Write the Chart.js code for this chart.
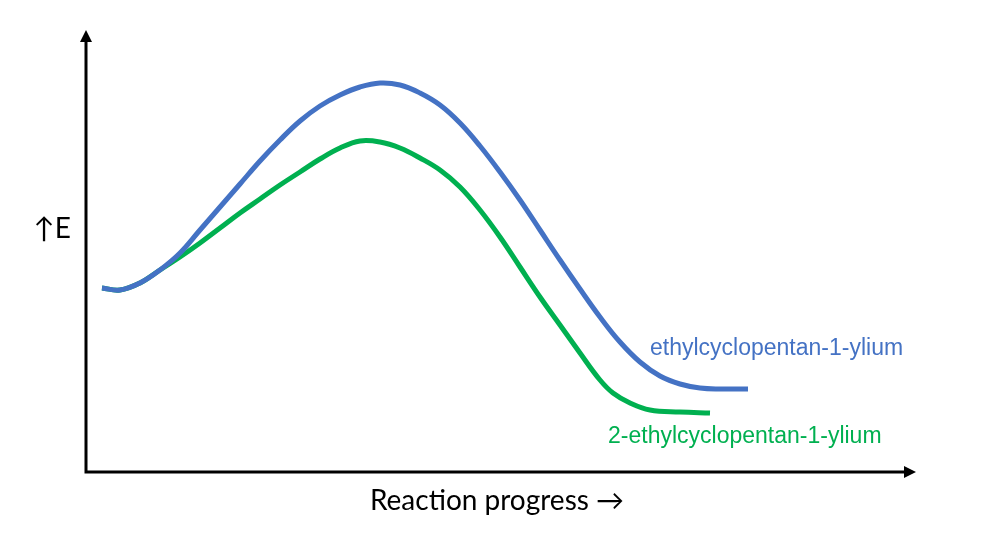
<!DOCTYPE html>
<html>
<head>
<meta charset="utf-8">
<script src="https://cdn.jsdelivr.net/npm/chart.js@4"></script>
<style>
  html, body { margin: 0; padding: 0; background: #fff; }
  #wrap { width: 1000px; height: 557px; }
</style>
</head>
<body>
<div id="wrap"><canvas id="chart"></canvas></div>
<script>
// reaction progress (x) and energy (y), arbitrary units
var blueX = [16, 34, 54, 74, 94, 114, 134, 154, 174, 194, 214, 234, 254, 274, 294, 314, 334, 354, 374, 394, 414, 434, 454, 474, 494, 514, 534, 554, 574, 594, 614, 634, 662];
var blueY = [184, 182, 189, 202, 219, 242, 265, 288, 311, 332, 351, 366, 377, 385, 389, 387, 379, 367, 349, 326, 300, 272, 242, 212, 183, 155, 130, 110, 96, 88, 84, 83, 83];
var greenX = [16, 34, 54, 74, 94, 114, 134, 154, 174, 194, 214, 234, 254, 274, 294, 314, 334, 354, 374, 394, 414, 434, 454, 474, 494, 514, 527, 544, 564, 594, 624];
var greenY = [184, 182, 189, 202, 215, 229, 244, 259, 273, 287, 300, 313, 324, 331, 330, 324, 314, 302, 285, 262, 235, 205, 175, 147, 119, 92, 79, 69, 62, 60, 59];

var blueName = 'ethylcyclopentan-1-ylium';
var greenName = '2-ethylcyclopentan-1-ylium';
var yTitle = '\u2191E';
var xTitle = 'Reaction progress \u2192';

function toPoints(xs, ys) {
    return xs.map(function (x, i) { return { x: x, y: ys[i] }; });
}

// 축 화살표와 텍스트를 그리는 플러그인
var axesPlugin = {
    id: 'axesPlugin',
    afterDraw: function (chart) {
        var ctx = chart.ctx;
        var a = chart.chartArea;
        var xs = chart.scales.x, ys = chart.scales.y;
        ctx.save();
        ctx.strokeStyle = '#000';
        ctx.fillStyle = '#000';
        ctx.lineWidth = 3;
        ctx.beginPath();
        ctx.moveTo(a.left, a.top + 10);
        ctx.lineTo(a.left, a.bottom);
        ctx.lineTo(a.right - 10, a.bottom);
        ctx.stroke();
        // y arrow
        ctx.beginPath();
        ctx.moveTo(a.left, a.top);
        ctx.lineTo(a.left - 6, a.top + 12);
        ctx.lineTo(a.left + 6, a.top + 12);
        ctx.closePath();
        ctx.fill();
        // x arrow
        ctx.beginPath();
        ctx.moveTo(a.right, a.bottom);
        ctx.lineTo(a.right - 12, a.bottom - 6);
        ctx.lineTo(a.right - 12, a.bottom + 6);
        ctx.closePath();
        ctx.fill();

        ctx.textBaseline = 'middle';
        ctx.font = '28px Lato, sans-serif';
        ctx.textAlign = 'right';
        ctx.fillText(yTitle, a.left - 15, ys.getPixelForValue(243));
        ctx.textAlign = 'center';
        ctx.font = '28px Lato, sans-serif';
        ctx.fillText(xTitle, xs.getPixelForValue(411), a.bottom + 29);

        ctx.textAlign = 'left';
        ctx.font = '23px "Liberation Sans", Arial, sans-serif';
        ctx.fillStyle = '#4472C4';
        ctx.fillText(blueName, xs.getPixelForValue(564), ys.getPixelForValue(123));
        ctx.fillStyle = '#00B050';
        ctx.fillText(greenName, xs.getPixelForValue(522), ys.getPixelForValue(35));
        ctx.restore();
    }
};

var chart = new Chart(document.getElementById('chart'), {
    type: 'scatter',
    data: {
        datasets: [{
            label: blueName,
            data: toPoints(blueX, blueY),
            showLine: true,
            borderColor: '#4472C4',
            borderWidth: 5,
            pointRadius: 0,
            tension: 0.4,
            fill: false
        }, {
            label: greenName,
            data: toPoints(greenX, greenY),
            showLine: true,
            borderColor: '#00B050',
            borderWidth: 5,
            pointRadius: 0,
            tension: 0.4,
            fill: false
        }]
    },
    options: {
        responsive: true,
        maintainAspectRatio: false,
        animation: false,
        layout: { padding: { left: 86, right: 84, top: 30, bottom: 85 } },
        plugins: { legend: { display: false }, tooltip: { enabled: false } },
        scales: {
            x: { type: 'linear', min: 0, max: 830, display: false },
            y: { type: 'linear', min: 0, max: 442, display: false }
        }
    },
    plugins: [axesPlugin]
});
</script>
</body>
</html>
